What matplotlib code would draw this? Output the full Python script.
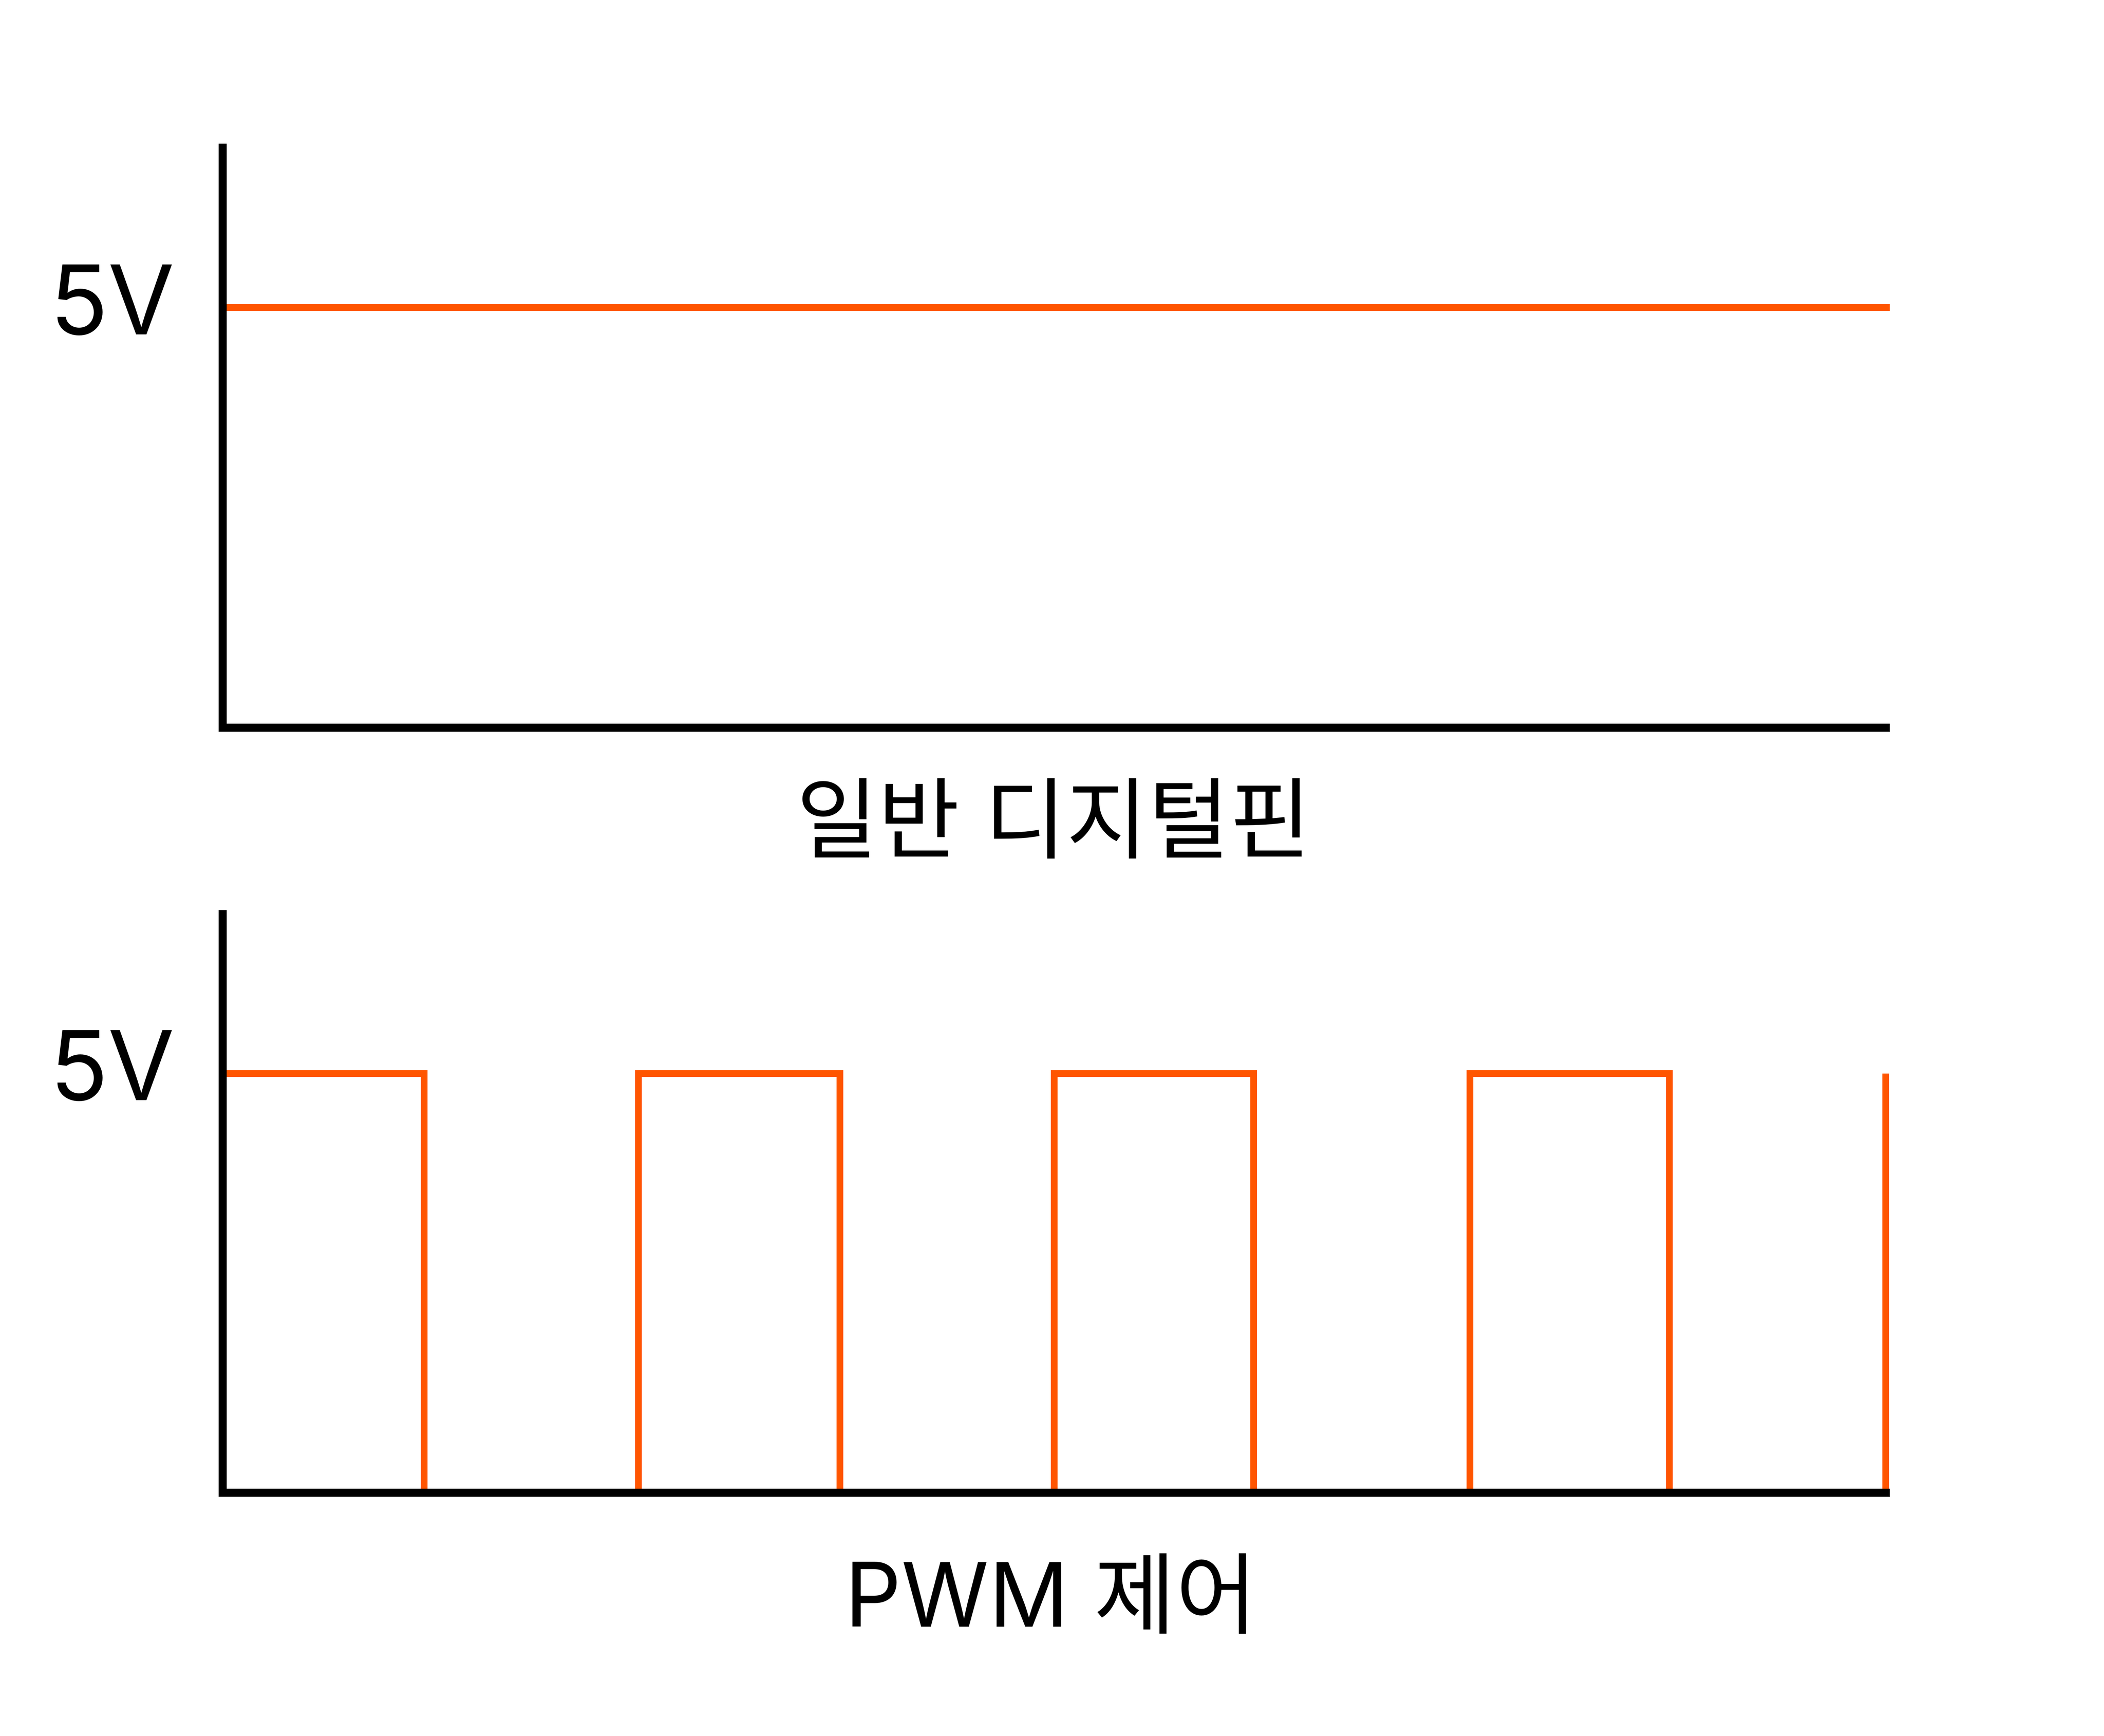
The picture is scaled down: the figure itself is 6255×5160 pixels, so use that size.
import matplotlib
matplotlib.use("Agg")
import matplotlib.pyplot as plt
import matplotlib.transforms as mtransforms

plt.rcParams['font.family'] = ['Noto Sans CJK KR', 'DejaVu Sans']

# ---- data ----
level_label = "5V"
high_level = 5.0
titles = ["일반 디지털핀", "PWM 제어"]
# top panel: constant high signal
const_x = [0.0, 4.01]
const_y = [5.0, 5.0]
# bottom panel: PWM square wave (rising / falling edge times)
rise_times = [0.0, 1.0, 2.0, 3.0, 4.0]
fall_times = [0.485, 1.485, 2.48, 3.48]

ORANGE = '#FF5500'
W, H = 6255, 5160
DPI = 100
fig = plt.figure(figsize=(W / DPI, H / DPI), dpi=DPI)
fig.patch.set_facecolor('white')

def px_axes(left, top, right, bottom):
    return fig.add_axes([left / W, 1 - bottom / H, (right - left) / W, (bottom - top) / H])

ax1 = px_axes(662, 439, 5606, 2163)
ax2 = px_axes(662, 2717, 5606, 4437)

spine_lw = 24 * 72 / DPI
line_lw = 20 * 72 / DPI

for ax in (ax1, ax2):
    ax.set_xlim(0, 4.0)
    ax.set_ylim(0, 6.9)
    for s in ('top', 'right'):
        ax.spines[s].set_visible(False)
    for s in ('left', 'bottom'):
        ax.spines[s].set_linewidth(spine_lw)
        ax.spines[s].set_color('black')
        ax.spines[s].set_capstyle('projecting')
    ax.set_xticks([])
    ax.set_yticks([])
    ax.patch.set_alpha(0)
    trans = mtransforms.blended_transform_factory(ax.transAxes, ax.transData)
    ax.text(-0.0665, 4.68, level_label, transform=trans, ha='center', va='baseline',
            fontsize=206, family=['Inter', 'DejaVu Sans'], color='black')

# top: constant line
ax1.plot(const_x, const_y, color=ORANGE, lw=line_lw, solid_capstyle='butt', clip_on=False)

# bottom: PWM pulses
for i, r in enumerate(rise_times):
    if i < len(fall_times):
        f = fall_times[i]
        ax2.plot([r, r, f, f], [0, high_level, high_level, 0], color=ORANGE, lw=line_lw,
                 solid_joinstyle='miter', solid_capstyle='butt', clip_on=False)
    else:
        ax2.plot([r, r], [0, high_level], color=ORANGE, lw=line_lw,
                 solid_capstyle='butt', clip_on=False)

title_family = ['Inter', 'Noto Sans CJK KR', 'DejaVu Sans']
fig.text(3132 / W, 1 - 2462 / H, titles[0], ha='center', va='center', fontsize=190,
         family=title_family)
fig.text(3124 / W, 1 - 4766 / H, titles[1], ha='center', va='center', fontsize=190,
         family=title_family)

fig.savefig('out.png', dpi=DPI, facecolor='white')
